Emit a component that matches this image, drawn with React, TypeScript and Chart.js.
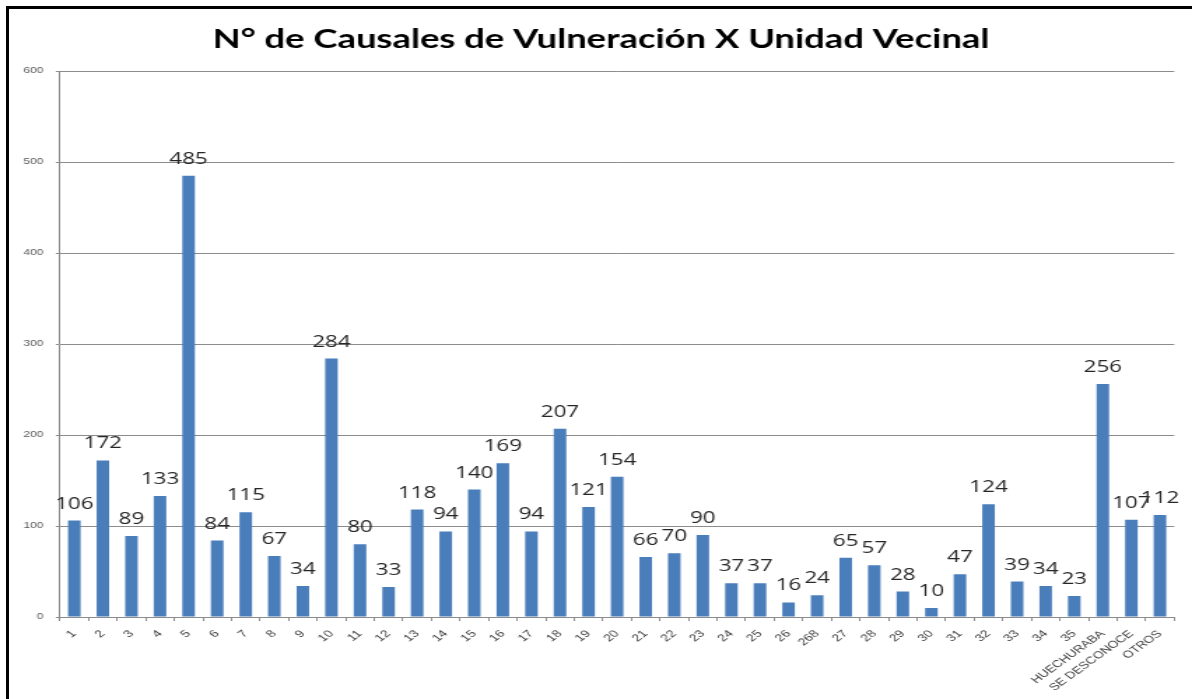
import React, { useEffect, useRef } from "react";
import { Chart, registerables } from "chart.js";

Chart.register(...registerables);

const TITLE = "N° de Causales de Vulneración X Unidad Vecinal";

const categories: string[] = [
  "1", "2", "3", "4", "5", "6", "7", "8", "9", "10",
  "11", "12", "13", "14", "15", "16", "17", "18", "19", "20",
  "21", "22", "23", "24", "25", "26", "268", "27", "28", "29",
  "30", "31", "32", "33", "34", "35", "HUECHURABA", "SE DESCONOCE", "OTROS",
];

const values: number[] = [
  106, 172, 89, 133, 485, 84, 115, 67, 34, 284,
  80, 33, 118, 94, 140, 169, 94, 207, 121, 154,
  66, 70, 90, 37, 37, 16, 24, 65, 57, 28,
  10, 47, 124, 39, 34, 23, 256, 107, 112,
];

const yTicks: number[] = [0, 100, 200, 300, 400, 500, 600];

const FULL_W = 1192;
const FULL_H = 699;
const INNER_W = 852;
const STRETCH = FULL_W / INNER_W;

const valueLabels = {
  id: "valueLabels",
  afterDatasetsDraw(chart: any) {
    const ctx = chart.ctx;
    const meta = chart.getDatasetMeta(0);
    const data = chart.data.datasets[0].data as number[];
    ctx.save();
    ctx.font = "16px 'Open Sans', 'Liberation Sans', sans-serif";
    ctx.fillStyle = "#262626";
    ctx.textAlign = "center";
    ctx.textBaseline = "alphabetic";
    meta.data.forEach((el: any, i: number) => {
      ctx.fillText(String(data[i]), el.x, el.y - 12);
    });
    ctx.restore();
  },
};

const titlePlugin = {
  id: "chartTitle",
  afterDraw(chart: any) {
    const ctx = chart.ctx;
    ctx.save();
    ctx.font = "bold 26px Lato, 'Liberation Sans', sans-serif";
    ctx.fillStyle = "#000000";
    ctx.textAlign = "center";
    ctx.textBaseline = "middle";
    ctx.fillText(TITLE, 601 / STRETCH, 40);
    ctx.restore();
  },
};

export default function App() {
  const ref = useRef<HTMLCanvasElement | null>(null);

  useEffect(() => {
    if (!ref.current) return;
    const chart = new Chart(ref.current, {
      type: "bar",
      data: {
        labels: categories,
        datasets: [
          {
            data: values,
            backgroundColor: "#4A7EBB",
            borderWidth: 0,
            barPercentage: 0.44,
            categoryPercentage: 1,
          },
        ],
      },
      plugins: [valueLabels, titlePlugin],
      options: {
        responsive: false,
        animation: false,
        devicePixelRatio: 1,
        layout: { padding: { left: 0, right: 12.7, top: 71, bottom: 0 } },
        plugins: {
          legend: { display: false },
          tooltip: { enabled: false },
          title: { display: false },
        },
        scales: {
          x: {
            offset: true,
            grid: {
              offset: true,
              drawOnChartArea: false,
              drawTicks: true,
              tickLength: 4,
              color: "#8C8C8C",
            },
            border: { display: true, color: "#8C8C8C", width: 1 },
            ticks: {
              autoSkip: false,
              minRotation: 45,
              maxRotation: 45,
              padding: 7,
              color: "#404040",
              font: { family: "'Liberation Sans', Arial, sans-serif", size: 10 },
            },
            afterFit: (scale: any) => {
              scale.height = FULL_H - 617;
            },
          },
          y: {
            min: 0,
            max: 600,
            afterBuildTicks: (scale: any) => {
              scale.ticks = yTicks.map((v) => ({ value: v }));
            },
            grid: {
              color: "#8C8C8C",
              lineWidth: 1,
              drawTicks: true,
              tickLength: 3,
            },
            border: { display: true, color: "#8C8C8C", width: 1 },
            ticks: {
              padding: 9,
              color: "#595959",
              font: { family: "'Liberation Sans', Arial, sans-serif", size: 8.5 },
            },
            afterFit: (scale: any) => {
              scale.width = 42.9;
            },
          },
        },
      },
    });
    return () => chart.destroy();
  }, []);

  return (
    <div
      style={{
        position: "absolute",
        left: 0,
        top: 0,
        width: FULL_W,
        height: FULL_H,
        overflow: "hidden",
        background: "#ffffff",
      }}
    >
      <canvas
        ref={ref}
        width={INNER_W}
        height={FULL_H}
        style={{
          position: "absolute",
          left: 0,
          top: 0,
          width: INNER_W,
          height: FULL_H,
          transform: `scaleX(${STRETCH})`,
          transformOrigin: "0 0",
        }}
      />
      <div
        style={{
          position: "absolute",
          left: 6,
          top: 6,
          width: FULL_W,
          height: FULL_H,
          borderLeft: "3px solid #000",
          borderTop: "3px solid #000",
          pointerEvents: "none",
        }}
      />
    </div>
  );
}
